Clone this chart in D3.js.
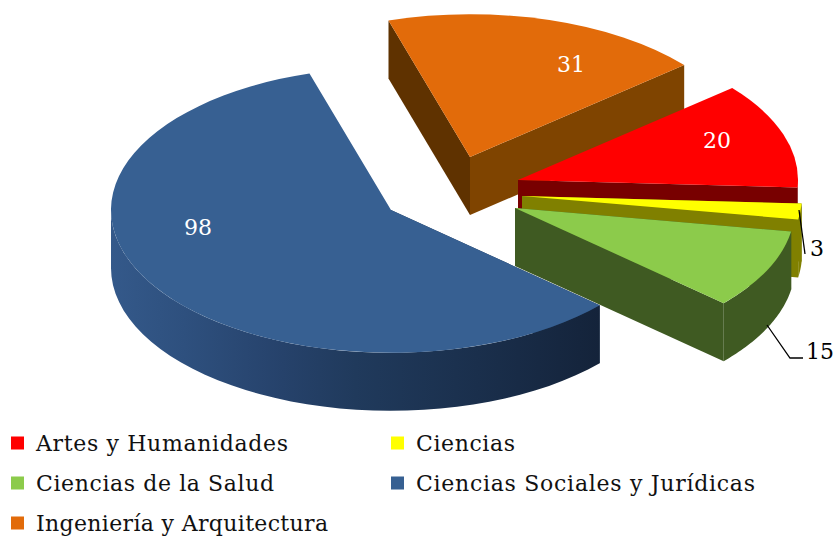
<!DOCTYPE html>
<html><head><meta charset="utf-8">
<script src="https://cdn.jsdelivr.net/npm/d3@7/dist/d3.min.js"></script>
<style>html,body{margin:0;padding:0;background:#fff}svg{display:block}text{font-family:"DejaVu Serif",serif}</style>
</head><body><svg id="c" width="837" height="536"></svg>
<script>
const categories=["Artes y Humanidades","Ciencias","Ciencias de la Salud","Ciencias Sociales y Jurídicas","Ingeniería y Arquitectura"];
const values=[20,3,15,98,31];
const topColors=["#ff0000","#ffff00","#8ccb4b","#376092","#e26b0a"];
const faceColors=["#780000","#808000","#3f5a22","#1f3654","#5f3200"];
const rimColors=["#780000","#808000","#3f5a22","url(#blueWall)","#7f4400"];
const centers=[[518,180],[522,196],[515,208],[391,210],[470,157]];
const drawOrder=[4,3,0,1,2];
const labelPos=[[717,140,"#fff"],[817,248,"#000"],[820,351,"#000"],[198,227,"#fff"],[571,64,"#fff"]];
const legendCols=[11,391], legendRows=[443,483,523];
const legendSlots=[[0,0],[1,0],[0,1],[1,1],[0,2]];
const legendWidths=[252,99,238,339,292];
const R=280, tilt=0.51, depth=58, start=49.9*Math.PI/180;

const svg=d3.select("#c");
const defs=svg.append("defs");
const g=defs.append("linearGradient").attr("id","blueWall").attr("gradientUnits","userSpaceOnUse")
 .attr("x1",111).attr("x2",600).attr("y1",0).attr("y2",0);
[[0,"#34598a"],[0.15,"#2e507e"],[0.35,"#26426b"],[0.5,"#203a5c"],[0.75,"#1a2f4c"],[1,"#14233a"]].forEach(s=>g.append("stop").attr("offset",s[0]).attr("stop-color",s[1]));

const pie=d3.pie().sort(null).startAngle(start).endAngle(start+2*Math.PI);
const arcs=pie(values);
const arc=d3.arc().innerRadius(0).outerRadius(R);
const pt=(c,a,r,z=0)=>[c[0]+r*Math.sin(a),c[1]-r*Math.cos(a)*tilt+z];
const line=d3.line();
function face(c,a){return line([pt(c,a,0),pt(c,a,R),pt(c,a,R,depth),pt(c,a,0,depth)])+"Z";}
function rim(c,a0,a1){
  const pts=[];
  d3.range(0,41).forEach(i=>pts.push(pt(c,a0+(a1-a0)*i/40,R)));
  d3.range(40,-1,-1).forEach(i=>pts.push(pt(c,a0+(a1-a0)*i/40,R,depth)));
  return line(pts)+"Z";
}
const PI=Math.PI;
const m=a=>((a%(2*PI))+2*PI)%(2*PI);
drawOrder.forEach(i=>{
  const d=arcs[i], c=centers[i];
  const s=svg.append("g");
  const sa=d.startAngle, ea=d.endAngle;
  if(Math.cos(m(sa))<0 || i===4) s.append("path").attr("d",face(c,sa)).attr("fill",faceColors[i]);
  if(Math.sin(m(ea))>0) s.append("path").attr("d",face(c,ea)).attr("fill",i===4?rimColors[4]:faceColors[i]);
  const r0=Math.max(sa,PI/2), r1=Math.min(ea,3*PI/2);
  if(r1>r0) s.append("path").attr("d",rim(c,r0,r1)).attr("fill",rimColors[i]);
  s.append("path").attr("transform",`translate(${c[0]},${c[1]}) scale(1,${tilt})`).attr("d",arc(d)).attr("fill",topColors[i]);
});

svg.append("path").attr("d",line([[799,210],[805,254]])).attr("fill","none").attr("stroke","#000").attr("stroke-width",1.3);
svg.append("path").attr("d",line([[767,325],[790,358],[803,358]])).attr("fill","none").attr("stroke","#000").attr("stroke-width",1.3);

values.forEach((v,i)=>{
  svg.append("text").attr("x",labelPos[i][0]).attr("y",labelPos[i][1]).attr("text-anchor","middle").attr("dominant-baseline","central")
   .attr("font-size",22).attr("fill",labelPos[i][2]).text(v);
});
categories.forEach((n,i)=>{
  const [cx,ry]=legendSlots[i];
  const x=legendCols[cx], y=legendRows[ry];
  svg.append("rect").attr("x",x).attr("y",y-6.5).attr("width",13).attr("height",13).attr("fill",topColors[i]);
  svg.append("text").attr("x",x+25).attr("y",y).attr("dominant-baseline","central").attr("font-size",22)
   .attr("textLength",legendWidths[i]).attr("lengthAdjust","spacing").attr("fill","#111").text(n);
});
</script></body></html>
